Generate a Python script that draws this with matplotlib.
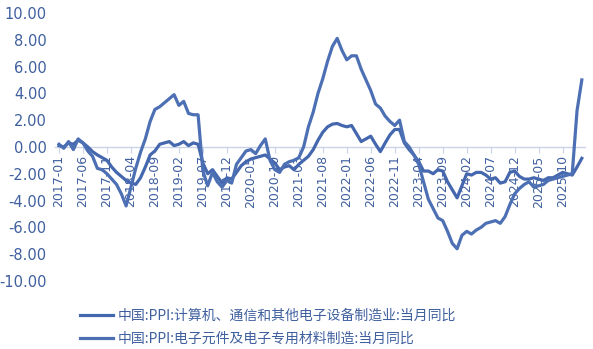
import matplotlib
matplotlib.use("Agg")
import matplotlib.pyplot as plt
import numpy as np
import pandas as pd
from matplotlib.ticker import FormatStrFormatter, MultipleLocator

plt.rcParams["font.family"] = ["Noto Sans CJK SC", "DejaVu Sans"]

# ---------------------------------------------------------------------------
# data: monthly YoY, 2017-01 .. 2026-02
# ---------------------------------------------------------------------------
months = pd.date_range("2017-01-01", "2026-02-01", freq="MS")

label_computer = "中国:PPI:计算机、通信和其他电子设备制造业:当月同比"
label_component = "中国:PPI:电子元件及电子专用材料制造:当月同比"

computer = [
    0.1, 0.0, 0.3, 0.2, 0.5, 0.3, 0.0, -0.35, -0.6, -0.8, -1.0, -1.5,      # 2017
    -1.9, -2.2, -2.5, -2.7, -2.8, -2.3, -1.5, -0.6, -0.3, 0.2, 0.3, 0.4,   # 2018
    0.1, 0.2, 0.4, 0.1, 0.3, 0.2, -1.2, -2.0, -1.7, -2.2, -2.7, -2.3,      # 2019
    -2.4, -1.9, -1.4, -1.1, -0.9, -0.8, -0.7, -0.6, -0.9, -1.2, -1.7, -1.5,  # 2020
    -1.4, -1.7, -1.3, -1.0, -0.7, -0.2, 0.5, 1.1, 1.5, 1.7, 1.75, 1.6,     # 2021
    1.5, 1.6, 1.0, 0.4, 0.6, 0.8, 0.2, -0.35, 0.3, 0.9, 1.3, 1.3,          # 2022
    0.3, -0.2, -0.6, -1.1, -1.8, -1.8, -2.0, -1.7, -1.8, -2.6, -3.2, -3.8,  # 2023
    -2.9, -2.0, -2.1, -1.9, -1.9, -2.1, -2.4, -2.3, -2.7, -2.6, -1.9, -1.8,  # 2024
    -2.2, -2.4, -2.4, -2.3, -2.4, -2.5, -2.3, -2.3, -2.1, -1.9, -2.0, -2.1,  # 2025
    -1.5, -0.85,                                                            # 2026
]

component = [
    0.2, -0.1, 0.4, -0.2, 0.6, 0.3, -0.3, -0.7, -1.6, -1.7, -2.0, -2.4,    # 2017
    -2.8, -3.5, -4.4, -3.0, -1.6, -0.4, 0.6, 1.9, 2.8, 3.0, 3.3, 3.6,      # 2018
    3.9, 3.1, 3.4, 2.5, 2.4, 2.4, -1.8, -2.9, -1.9, -2.6, -3.0, -2.5,      # 2019
    -2.7, -1.3, -0.8, -0.3, -0.2, -0.5, 0.1, 0.6, -1.0, -1.7, -1.9, -1.3,  # 2020
    -1.1, -1.0, -0.8, 0.0, 1.5, 2.6, 4.0, 5.1, 6.4, 7.5, 8.1, 7.2,         # 2021
    6.5, 6.8, 6.8, 5.8, 5.0, 4.2, 3.2, 2.9, 2.3, 1.9, 1.6, 2.0,            # 2022
    0.4, 0.0, -0.6, -1.3, -2.6, -3.9, -4.6, -5.3, -5.5, -6.3, -7.2, -7.6,  # 2023
    -6.6, -6.3, -6.5, -6.2, -6.0, -5.7, -5.6, -5.5, -5.7, -5.2, -4.3, -3.5,  # 2024
    -3.1, -2.8, -2.6, -3.0, -2.9, -2.8, -2.5, -2.4, -2.3, -2.2, -2.1, -2.0,  # 2025
    2.7, 5.0,                                                               # 2026
]

# ---------------------------------------------------------------------------
# style
# ---------------------------------------------------------------------------
LINE_1 = "#4467ae"
LINE_2 = "#4d70b4"
TEXT = "#3f5f9f"
AXIS = "#c9d3e8"

fig = plt.figure(figsize=(5.93, 3.49), dpi=100)
ax = fig.add_axes([0.093, 0.195, 0.893, 0.768])

# spine position first: moving it resets the tick objects
for side in ("top", "right", "left"):
    ax.spines[side].set_visible(False)
ax.spines["bottom"].set_position(("data", 0))
ax.spines["bottom"].set_color(AXIS)
ax.spines["bottom"].set_linewidth(1.0)
ax.spines["bottom"].set_zorder(0)

x = np.arange(len(months))
ax.plot(x, computer, color=LINE_1, lw=2.3, label=label_computer)
ax.plot(x, component, color=LINE_2, lw=2.3, label=label_component)

ax.set_ylim(-10, 10)
ax.set_xlim(-0.8, 109.6)
ax.yaxis.set_major_locator(MultipleLocator(2))
ax.yaxis.set_major_formatter(FormatStrFormatter("%.2f"))

tick_pos = x[::5]
tick_labels = [m.strftime("%Y-%m") for m in months[::5]]
ax.set_xticks(tick_pos)
ax.set_xticklabels(tick_labels, rotation=90, fontsize=9, color=TEXT,
                   family="DejaVu Sans", va="top")

ax.tick_params(axis="x", direction="out", length=4, color=AXIS, pad=2)
ax.tick_params(axis="y", length=0, labelsize=10.5, labelcolor=TEXT, pad=6)
for t in ax.get_yticklabels():
    t.set_family("DejaVu Sans")

leg = fig.legend(loc="upper left", bbox_to_anchor=(0.113, 0.152),
                 frameon=False, fontsize=10, handlelength=2.4,
                 handletextpad=0.35, labelspacing=0.7)
for t in leg.get_texts():
    t.set_color(TEXT)

fig.savefig("out.png", dpi=100)
